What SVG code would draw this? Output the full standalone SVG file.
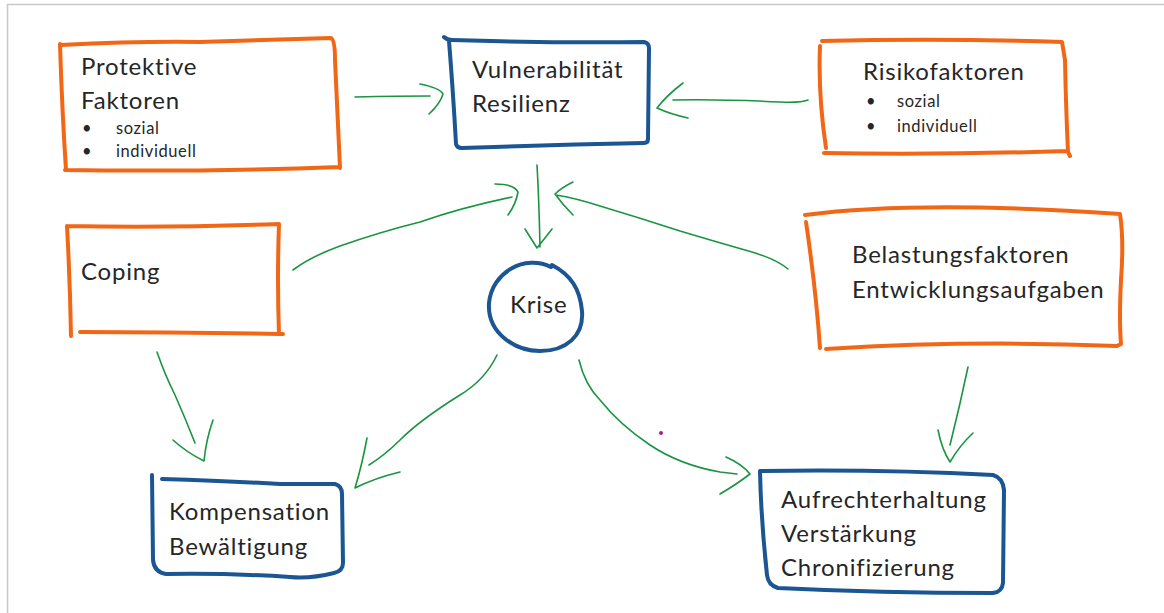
<svg xmlns="http://www.w3.org/2000/svg" width="1164" height="613" viewBox="0 0 1164 613">
<style>
  .frame{fill:none;stroke:#c9c9c9;stroke-width:1.6}
  .o{fill:none;stroke:#f26716;stroke-width:4;stroke-linecap:round;stroke-linejoin:round}
  .b{fill:none;stroke:#1b5592;stroke-width:4;stroke-linecap:round;stroke-linejoin:round}
  .c{fill:none;stroke:#199441;stroke-width:1.6;stroke-linecap:round;stroke-linejoin:round}
  text{font-family:Lato,"Liberation Sans",sans-serif;fill:#262626}
  .t{font-size:24px;letter-spacing:0.8px}
  .s{font-size:16.5px;letter-spacing:0.6px}
</style>
<rect width="1164" height="613" fill="#ffffff"/>
<path class="frame" d="M7.5,613 V4.5 H1164"/>

<g id="protektive">
  <path class="o" d="M61,45 Q140,41 200,42 Q270,40 331,38 Q335,40 335,60 L340,168 M340,167 Q200,172 65,170 M66,170 Q62,110 60,44"/>
  <text class="t" x="81" y="75">Protektive</text>
  <text class="t" x="81" y="109">Faktoren</text>
  <text class="s" x="82" y="134">•</text><text class="s" x="116" y="134">sozial</text>
  <text class="s" x="82" y="157">•</text><text class="s" x="116" y="157">individuell</text>
</g>

<g id="vulnerabilitaet">
  <path class="b" d="M444,37 Q447,40 452,40 Q550,43 644,42 Q649,43 649,48 L648,139 Q648,143 644,143 Q550,145 462,148 Q457,148 456,144 Q453,90 449,41"/>
  <text class="t" x="472" y="78">Vulnerabilität</text>
  <text class="t" x="472" y="112">Resilienz</text>
</g>

<g id="risikofaktoren">
  <path class="o" d="M822,41 Q940,38 1062,42 L1065,60 Q1066,110 1068,152 L1070,156 M1068,151 Q940,155 824,153 M826,148 Q818,95 820,46"/>
  <text class="t" x="863" y="80">Risikofaktoren</text>
  <text class="s" x="866" y="107">•</text><text class="s" x="897" y="107">sozial</text>
  <text class="s" x="866" y="132">•</text><text class="s" x="897" y="132">individuell</text>
</g>

<g id="coping">
  <path class="o" d="M67,226 Q170,228 279,224 Q277,280 279,334 L283,334 M280,334 Q180,332 80,332 M71,336 Q70,280 67,226"/>
  <text class="t" x="81" y="280">Coping</text>
</g>

<g id="krise">
  <path class="b" d="M551,267 C525,254 492,272 489,303 C487,333 515,351 540,351 C566,351 584,336 582,311 C580,289 571,275 552,265"/>
  <text class="t" x="510" y="313">Krise</text>
</g>

<g id="belastung">
  <path class="o" d="M805,215 Q920,200 1120,214 Q1124,240 1121,280 Q1119,320 1121,344 L1117,346 Q970,340 826,349 M820,348 Q816,290 806,222"/>
  <text class="t" x="852" y="263">Belastungsfaktoren</text>
  <text class="t" x="852" y="298">Entwicklungsaufgaben</text>
</g>

<g id="kompensation">
  <path class="b" d="M162,479 Q230,481 280,484 L335,484 Q342,486 342,494 L343,563 Q343,571 334,573 Q310,579 290,577 Q230,573 166,574 Q154,572 153,560 L152,475"/>
  <text class="t" x="169" y="520">Kompensation</text>
  <text class="t" x="169" y="555">Bewältigung</text>
</g>

<g id="aufrecht">
  <path class="b" d="M760,471 Q880,469 993,475 Q1003,478 1004,490 L1003,583 Q1002,592 993,593 Q880,593 778,588 Q768,585 767,575 Q761,520 760,471"/>
  <text class="t" x="781" y="508">Aufrechterhaltung</text>
  <text class="t" x="781" y="542">Verstärkung</text>
  <text class="t" x="781" y="576">Chronifizierung</text>
</g>

<g id="connectors">
  <path class="c" d="M355,97 Q400,96 430,96 M420,84 Q440,88 443,94 Q440,104 429,114"/>
  <path class="c" d="M808,100 Q800,103 780,102 Q720,99 673,100 M683,83 Q666,96 657,108 Q670,114 688,118"/>
  <path class="c" d="M537,165 Q539,200 540,247 M525,229 Q532,240 537,248 Q545,238 552,229"/>
  <path class="c" d="M293,270 Q310,257 340,246 Q380,232 420,222 Q460,208 512,197 M495,184 Q514,184 518,192 Q516,204 508,215"/>
  <path class="c" d="M788,269 Q775,258 745,250 Q710,240 680,231 Q640,218 600,206 Q575,198 556,195 M573,182 Q561,188 555,194 Q563,205 573,215"/>
  <path class="c" d="M157,352 Q165,375 175,395 Q186,420 195,443 M173,440 Q186,452 204,461 Q206,440 213,420"/>
  <path class="c" d="M497,355 Q485,380 460,395 Q420,420 400,440 Q385,455 369,465 M367,438 Q362,465 355,488 Q375,478 400,472"/>
  <path class="c" d="M579,360 Q585,385 600,400 Q620,425 650,445 Q680,465 720,472 L737,474 M726,457 Q742,464 750,474 Q737,484 720,494"/>
  <path class="c" d="M968,367 Q960,405 950,445 M938,430 Q942,450 950,462 Q960,445 973,433"/>
</g>
<circle cx="661" cy="433" r="2" fill="#a01f8d"/>
</svg>
